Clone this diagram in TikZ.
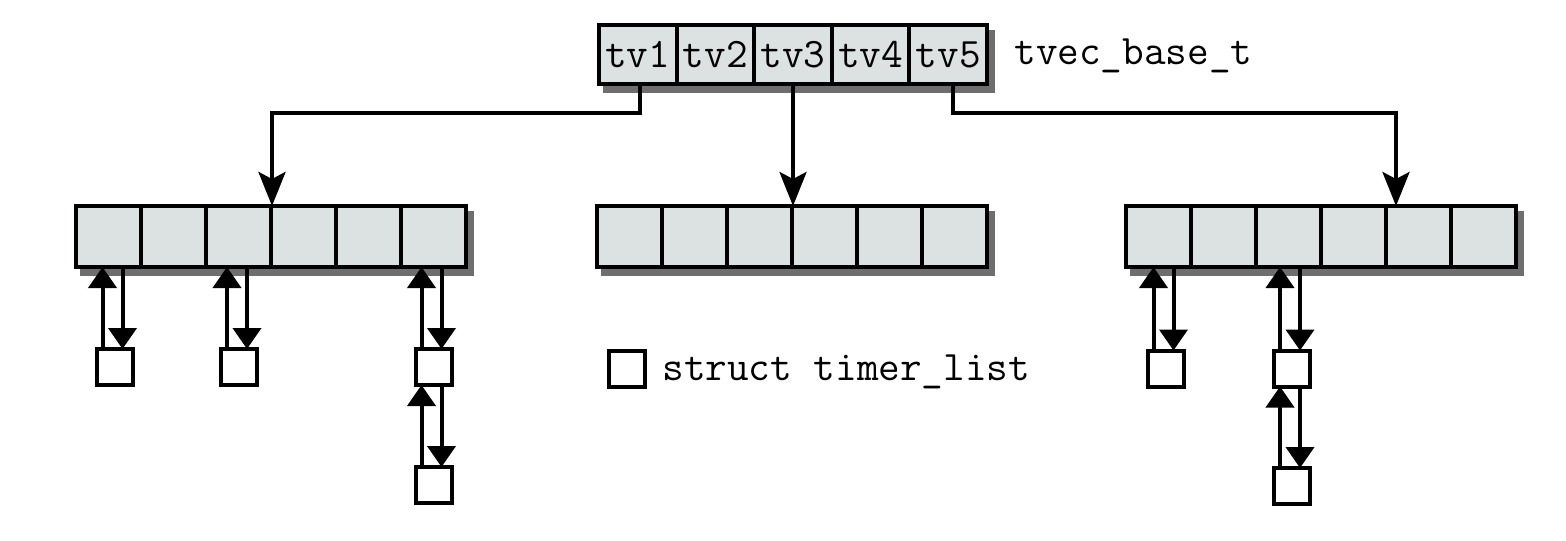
\documentclass[tikz,border=0pt]{standalone}
\usepackage{fontspec}
\usetikzlibrary{arrows.meta,calc,backgrounds}
\definecolor{cellfill}{HTML}{DCE1E1}
\definecolor{shadowc}{HTML}{6E6E6E}
\begin{document}
\begin{tikzpicture}[x=0.5pt,y=-0.5pt,
  cell/.style={draw,line width=2pt,fill=cellfill,minimum width=32.5pt,minimum height=30.5pt,inner sep=0pt,outer sep=0pt},
  topcell/.style={cell,minimum width=38.8pt,minimum height=29.5pt,font=\ttfamily\fontsize{21}{24}\selectfont},
  tl/.style={draw,line width=2pt,fill=white,minimum size=18pt,inner sep=0pt,outer sep=0pt},
  mainarrow/.style={line width=2pt,-{Stealth[length=17pt,width=13.5pt,inset=3.5pt]}},
  link/.style={line width=2pt,-{Triangle[length=10.5pt,width=14pt]}},
  lbl/.style={font=\ttfamily\fontsize{21}{24}\selectfont,inner sep=0pt,anchor=base west}]
\useasboundingbox (0,0) rectangle (1566,540);

% top tvec_base_t
\foreach \i in {1,...,5}
  \node[topcell] (tv\i) at ({599+77.6*(\i-0.5)},54.5) {tv\i};
\node[lbl] (tvlabel) at (1014,65) {tvec\_base\_t};

% arrays
\foreach \i in {1,...,6} {
  \node[cell] (L\i) at ({76+65*(\i-0.5)},236.5) {};
  \node[cell] (M\i) at ({597+65*(\i-0.5)},236.5) {};
  \node[cell] (R\i) at ({1126+65*(\i-0.5)},236.5) {};
}

% shadows
\begin{scope}[on background layer]
  \foreach \a/\b in {L1/L6,M1/M6,R1/R6,tv1/tv5}
    \fill[shadowc] ($(\a.north west)+(4,5)$) rectangle ($(\b.south east)+(8,9)$);
\end{scope}

% main connectors
\coordinate (aL) at ([xshift=0.5pt]L3.north east);
\coordinate (aR) at ([xshift=5pt]R4.north east);
\draw[mainarrow] ([xshift=1pt]tv1.south) -- ++(0,29) -| (aL);
\draw[mainarrow] (tv3.south) -- (tv3.south |- M3.north);
\draw[mainarrow] ([xshift=2.5pt]tv5.south) -- ++(0,29) -| (aR);

% timer_list boxes
\node[tl] (b1) at (114.5,367) {};
\node[tl] (b2) at (239,367) {};
\node[tl] (b3) at (433.5,367) {};
\node[tl] (b4) at (433.5,485) {};
\node[tl] (r1) at (1165.5,368.5) {};
\node[tl] (r2) at (1292,368.5) {};
\node[tl] (r3) at (1292,486) {};

% links
\foreach \b/\c in {b1/L1,b2/L3,b3/L6,r1/R1,r2/R3,b4/b3,r3/r2} {
  \draw[link] ([xshift=-6pt]\b.north) -- ([xshift=-6pt]\b.north |- \c.south);
  \draw[link] ([xshift=4pt]\b.north |- \c.south) -- ([xshift=4pt]\b.north);
}

% legend
\node[tl] (leg) at (626.5,369) {};
\node[lbl] (legtext) at (662,380) {struct timer\_list};
\end{tikzpicture}
\end{document}
